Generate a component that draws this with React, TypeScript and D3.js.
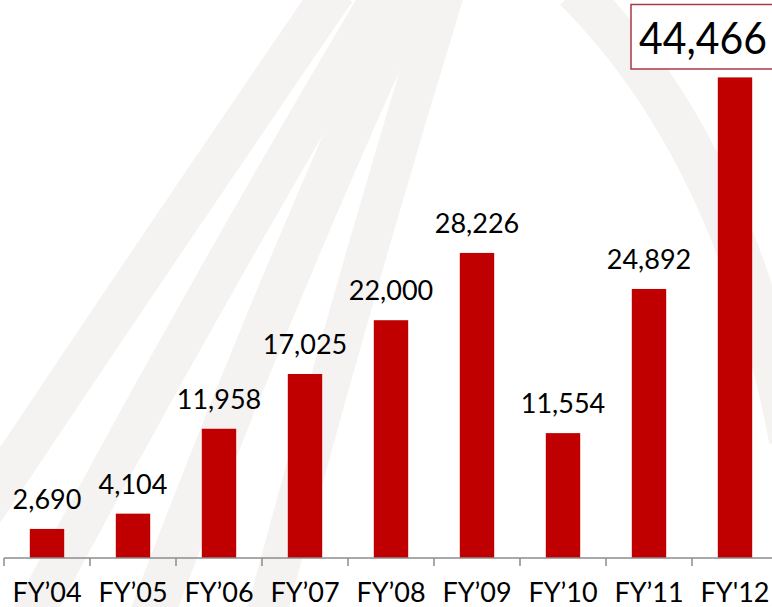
import React from "react";
import * as d3 from "d3";

const categories = ["FY’04", "FY’05", "FY’06", "FY’07", "FY’08", "FY’09", "FY’10", "FY’11", "FY'12"];
const values = [2690, 4104, 11958, 17025, 22000, 28226, 11554, 24892, 44466];
const valueLabels = ["2,690", "4,104", "11,958", "17,025", "22,000", "28,226", "11,554", "24,892", "44,466"];

const W = 772;
const H = 607;
const FONT = "Lato, 'Open Sans', sans-serif";

// watermark bands: [x0,y0,cx,cy,x1,y1,width]
const bands: number[][] = [
  [-30, 530, 150, 260, 335, -10, 42],
  [30, 620, 200, 300, 385, -10, 40],
  [150, 620, 270, 300, 412, -10, 44],
  [265, 620, 350, 300, 445, -10, 40],
];

export default function App() {
  const x = d3.scaleBand<string>().domain(categories).range([4, 778]).paddingInner(0.6).paddingOuter(0.3);
  const step = x.step();
  const y = d3.scaleLinear().domain([0, 44466]).range([558, 77.4]);
  const fmt = (i: number) => valueLabels[i];
  const last = categories.length - 1;

  const arcPath = d3.path();
  arcPath.moveTo(575, -10);
  arcPath.quadraticCurveTo(735, 150, 790, 440);

  return (
    <div style={{ position: "absolute", left: 0, top: 0 }}>
      <svg width={W} height={H} style={{ display: "block", background: "#fff" }}>
        <g fill="none" stroke="#f5f3f1" strokeLinecap="butt">
          {bands.map((b, i) => (
            <path key={i} d={`M${b[0]},${b[1]} Q${b[2]},${b[3]} ${b[4]},${b[5]}`} strokeWidth={b[6]} />
          ))}
          <path d={arcPath.toString()} strokeWidth={42} />
        </g>
        {values.map((v, i) => (
          <rect
            key={categories[i]}
            x={x(categories[i])!}
            y={y(v)}
            width={x.bandwidth()}
            height={y(0) - y(v)}
            fill="#C00000"
          />
        ))}
        {values.map((v, i) =>
          i === last ? null : (
            <text
              key={"l" + i}
              x={x(categories[i])! + x.bandwidth() / 2}
              y={y(v) - 20}
              textAnchor="middle"
              fontFamily={FONT}
              fontSize={27}
              fill="#000"
            >
              {fmt(i)}
            </text>
          )
        )}
        <rect x={631} y={4.5} width={150} height={64.5} fill="#fff" stroke="#A83A48" strokeWidth={1.5} />
        <text x={639} y={54} fontFamily={FONT} fontSize={44} fill="#000" textLength={128} lengthAdjust="spacingAndGlyphs">
          {fmt(last)}
        </text>
        <line x1={4} x2={W} y1={558} y2={558} stroke="#8c8c8c" strokeWidth={1.5} />
        {d3.range(categories.length + 1).map((k) => {
          const tx = 4 + k * step;
          return <line key={"t" + k} x1={tx} x2={tx} y1={558} y2={566} stroke="#8c8c8c" strokeWidth={1.5} />;
        })}
        {categories.map((c) => (
          <text
            key={"x" + c}
            x={x(c)! + x.bandwidth() / 2}
            y={602}
            textAnchor="middle"
            fontFamily={FONT}
            fontSize={27}
            fill="#000"
          >
            {c}
          </text>
        ))}
      </svg>
    </div>
  );
}
